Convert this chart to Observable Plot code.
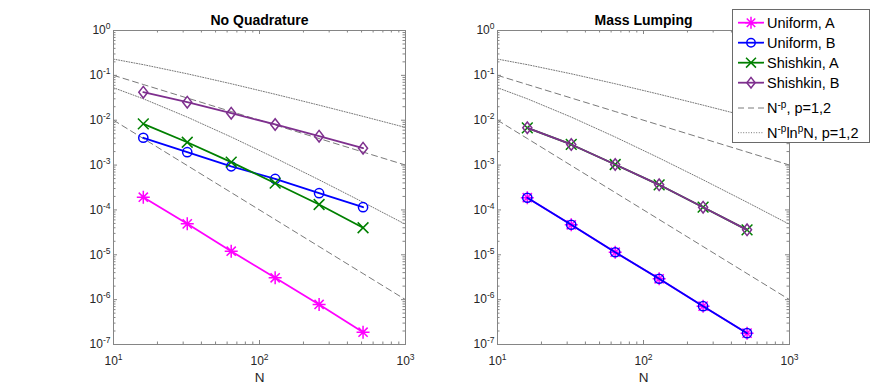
<!DOCTYPE html>
<html><head><meta charset="utf-8">
<script src="https://cdn.jsdelivr.net/npm/d3@7"></script>
<script src="https://cdn.jsdelivr.net/npm/@observablehq/plot@0.6"></script>
<style>
body{margin:0;background:#fff;}
#wrap{position:relative;width:872px;height:388px;overflow:hidden;font-family:"Liberation Sans",Arial,Helvetica,sans-serif;background:#fff;}
#wrap svg.panel{position:absolute;top:0;}
#legend{position:absolute;left:732px;top:9px;width:136px;height:132px;border:1px solid #6a6a6a;background:#fff;}
</style></head><body><div id="wrap"></div>
<script>
// ---- data ----
const N = [16, 32, 64, 128, 256, 512];
// No Quadrature
const nqUniformA  = [1.92e-4, 4.9e-5, 1.2e-5, 3.07e-6, 7.8e-7, 1.88e-7];
const nqUniformB  = [4.06e-3, 1.94e-3, 9.4e-4, 4.9e-4, 2.36e-4, 1.15e-4];
const nqShishkinA = [8.3e-3, 3.23e-3, 1.16e-3, 3.94e-4, 1.32e-4, 4.0e-5];
const nqShishkinB = [4.22e-2, 2.52e-2, 1.435e-2, 8.03e-3, 4.4e-3, 2.38e-3];
// Mass Lumping
const mlUniformA  = [1.87e-4, 4.67e-5, 1.14e-5, 2.92e-6, 7.15e-7, 1.79e-7];
const mlUniformB  = [1.87e-4, 4.67e-5, 1.14e-5, 2.92e-6, 7.15e-7, 1.79e-7];
const mlShishkinA = [6.78e-3, 2.88e-3, 1.03e-3, 3.63e-4, 1.15e-4, 3.6e-5];
const mlShishkinB = [6.78e-3, 2.88e-3, 1.03e-3, 3.63e-4, 1.15e-4, 3.6e-5];
// reference curves N^-p and N^-p ln^p N (p = 1, 2)
const refN    = [10, 16, 32, 64, 128, 256, 512, 1000];
const refP1   = [0.1, 0.0625, 0.03125, 0.015625, 0.0078125, 0.00390625, 0.001953, 0.001];
const refP2   = [0.01, 0.003906, 9.766e-4, 2.441e-4, 6.104e-5, 1.526e-5, 3.815e-6, 1e-6];
const refLog1 = [0.2303, 0.1733, 0.1083, 0.06498, 0.03791, 0.02166, 0.01218, 0.006908];
const refLog2 = [0.05302, 0.03003, 0.01173, 0.004223, 0.001437, 4.692e-4, 1.484e-4, 4.772e-5];
// ticks
const xTicks = [10, 100, 1000];
const yTicks = [1e-7, 1e-6, 1e-5, 1e-4, 1e-3, 1e-2, 1e-1, 1];
const xMinor = [20,30,40,50,60,70,80,90,200,300,400,500,600,700,800,900];
const yMinor = [];
for (let e = -7; e < 0; e++) for (let k = 2; k <= 9; k++) yMinor.push(k * Math.pow(10, e));
const titles = ["No Quadrature", "Mass Lumping"];
const legendLabels = ["Uniform, A", "Uniform, B", "Shishkin, A", "Shishkin, B"];

// ---- styles ----
const colors = ["#ff00ff", "#0000ff", "#008000", "#7e2f8e"];
const refColor = "#7a7a7a";
const dotColor = "#777777";
const axisColor = "#858585";
const textColor = "#262626";
const font = "Liberation Sans, Arial, Helvetica, sans-serif";

const asterisk8 = {draw(c, size){const r=Math.sqrt(size/Math.PI), d=r*Math.SQRT1_2;
  c.moveTo(0,-r);c.lineTo(0,r);c.moveTo(-r,0);c.lineTo(r,0);
  c.moveTo(-d,-d);c.lineTo(d,d);c.moveTo(-d,d);c.lineTo(d,-d);}};
const timesM = {draw(c, size){const r=Math.sqrt(size/Math.PI), d=r*Math.SQRT1_2;
  c.moveTo(-d,-d);c.lineTo(d,d);c.moveTo(-d,d);c.lineTo(d,-d);}};
const diamondM = {draw(c, size){const r=Math.sqrt(size/Math.PI);
  c.moveTo(0,-r);c.lineTo(r*0.78,0);c.lineTo(0,r);c.lineTo(-r*0.78,0);c.closePath();}};
const symbols = [asterisk8, "circle", timesM, diamondM];
const radii = [6.5, 4.6, 7.6, 5.8];

const W = 436, H = 388, MT = 30, MB = 44;
const refRows = refN.map((n, i) => ({N: n, p1: refP1[i], p2: refP2[i], l1: refLog1[i], l2: refLog2[i]}));

function panel(title, seriesValues, mL, mR) {
  const pw = W - mL - mR, ph = H - MT - MB;
  const marks = [
    Plot.line(refRows, {x: "N", y: "p1", stroke: refColor, strokeWidth: 1, strokeDasharray: "6,4"}),
    Plot.line(refRows, {x: "N", y: "p2", stroke: refColor, strokeWidth: 1, strokeDasharray: "6,4"}),
    Plot.line(refRows, {x: "N", y: "l1", stroke: dotColor, strokeWidth: 1, strokeDasharray: "1,1.6"}),
    Plot.line(refRows, {x: "N", y: "l2", stroke: dotColor, strokeWidth: 1, strokeDasharray: "1,1.6"})
  ];
  seriesValues.forEach((vals, s) => {
    const rows = N.map((n, i) => ({N: n, v: vals[i]}));
    marks.push(Plot.line(rows, {x: "N", y: "v", stroke: colors[s], strokeWidth: 1.8}));
    marks.push(Plot.dot(rows, {x: "N", y: "v", symbol: () => symbols[s], r: radii[s], fill: "none", stroke: colors[s], strokeWidth: 1.5}));
  });
  // box + inward ticks on all sides
  marks.push(
    Plot.frame({stroke: axisColor, strokeWidth: 1}),
    Plot.ruleY(yTicks, {stroke: axisColor, insetRight: pw - 4}),
    Plot.ruleY(yTicks, {stroke: axisColor, insetLeft: pw - 4}),
    Plot.ruleY(yMinor, {stroke: axisColor, insetRight: pw - 2.5}),
    Plot.ruleY(yMinor, {stroke: axisColor, insetLeft: pw - 2.5}),
    Plot.ruleX(xTicks, {stroke: axisColor, insetTop: ph - 4}),
    Plot.ruleX(xTicks, {stroke: axisColor, insetBottom: ph - 4}),
    Plot.ruleX(xMinor, {stroke: axisColor, insetTop: ph - 2.5}),
    Plot.ruleX(xMinor, {stroke: axisColor, insetBottom: ph - 2.5}),
    Plot.axisX({ticks: xTicks, tickSize: 0, tickPadding: 12, label: null, fontSize: 12, fill: textColor,
      tickFormat: d => "10^" + Math.round(Math.log10(d))}),
    Plot.axisY({ticks: yTicks, tickSize: 0, tickPadding: 3, label: null, fontSize: 12, fill: textColor,
      tickFormat: d => "10^" + Math.round(Math.log10(d))}),
    Plot.text([title], {frameAnchor: "top", dy: -15, fontSize: 14, fontWeight: "bold", fill: "#000"}),
    Plot.text(["N"], {frameAnchor: "bottom", dy: 37, fontSize: 13.5, fill: textColor})
  );
  const svg = Plot.plot({
    width: W, height: H, marginLeft: mL, marginRight: mR, marginTop: MT, marginBottom: MB,
    x: {type: "log", domain: [10, 1000]},
    y: {type: "log", domain: [1e-7, 1]},
    style: {fontFamily: font, fontSize: "12px", background: "transparent", overflow: "visible"},
    marks
  });
  svg.classList.add("panel");
  // superscripts for tick labels
  const ns = "http://www.w3.org/2000/svg";
  svg.querySelectorAll('g[aria-label="x-axis tick label"] text, g[aria-label="y-axis tick label"] text').forEach(t => {
    const parts = t.textContent.split("^");
    if (parts.length !== 2) return;
    t.textContent = "";
    t.setAttribute("font-size", "12px");
    const a = document.createElementNS(ns, "tspan"); a.textContent = parts[0];
    a.setAttribute("font-size", "12px");
    const b = document.createElementNS(ns, "tspan"); b.textContent = parts[1];
    b.setAttribute("dy", "-5px"); b.setAttribute("font-size", "8.5px");
    t.append(a, b);
  });
  return svg;
}

const wrap = document.getElementById("wrap");
const left = panel(titles[0], [nqUniformA, nqUniformB, nqShishkinA, nqShishkinB], 113, 31);
left.style.left = "0px";
const right = panel(titles[1], [mlUniformA, mlUniformB, mlShishkinA, mlShishkinB], 61, 83);
right.style.left = "436px";
wrap.append(left, right);

// ---- legend ----
const leg = document.createElement("div"); leg.id = "legend"; wrap.append(leg);
const ls = d3.select(leg).append("svg").attr("width", 136).attr("height", 132)
  .style("font-family", font).style("font-size", "14.5px");
const rowY = [12.7, 32.7, 52.7, 72.7, 98, 122.7];
legendLabels.forEach((lab, i) => {
  const y = rowY[i];
  ls.append("line").attr("x1", 5).attr("x2", 31).attr("y1", y).attr("y2", y)
    .attr("stroke", colors[i]).attr("stroke-width", 1.8);
  const p = d3.path(); symbols[i] === "circle" ? d3.symbolCircle.draw(p, Math.PI * 4.2 * 4.2) : symbols[i].draw(p, Math.PI * radii[i] * radii[i] * 0.85);
  ls.append("path").attr("d", p.toString()).attr("transform", `translate(18,${y})`)
    .attr("fill", "none").attr("stroke", colors[i]).attr("stroke-width", 1.5);
  ls.append("text").attr("x", 34).attr("y", y).attr("dy", "0.36em").attr("fill", "#000").text(lab);
});
[["6,4", 4, refColor], ["1,1.6", 5, dotColor]].forEach(([dash, i, c]) => {
  const y = rowY[i];
  ls.append("line").attr("x1", 5).attr("x2", 31).attr("y1", y).attr("y2", y)
    .attr("stroke", c).attr("stroke-width", 1).attr("stroke-dasharray", dash);
});
function supText(y, pieces) {
  const t = ls.append("text").attr("x", 34).attr("y", y + 5.2).attr("fill", "#000");
  pieces.forEach(([s, sup]) => {
    t.append("tspan").attr("y", sup ? y - 0.5 : y + 5.2).attr("font-size", sup ? "10px" : "14.5px").text(s);
  });
}
supText(rowY[4], [["N", false], ["-p", true], [", p=1,2", false]]);
supText(rowY[5], [["N", false], ["-p", true], ["ln", false], ["p", true], ["N, p=1,2", false]]);
</script></body></html>
